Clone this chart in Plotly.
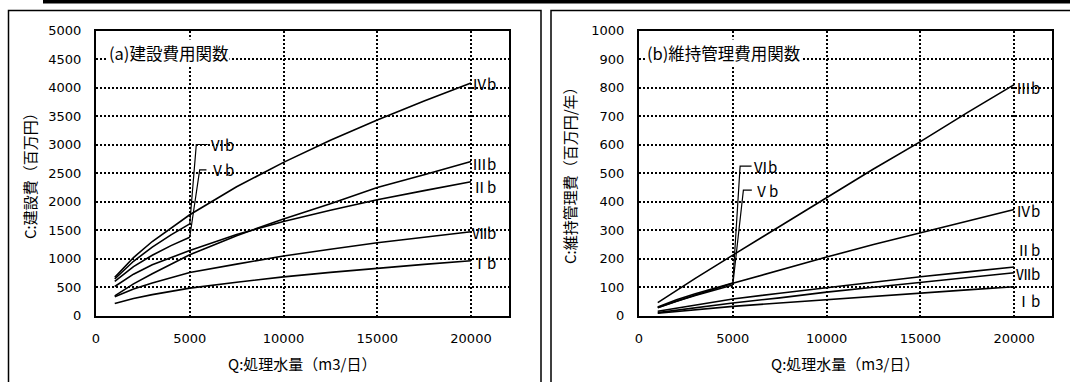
import plotly.graph_objects as go

W, H = 1070, 382

# ---------------- data ----------------
Q_full = [1000, 2000, 3000, 5000, 7500, 10000, 12500, 15000, 17500, 20000]
Q_short = [1000, 2000, 3000, 4000, 5000]

# (a) construction cost (million yen)
con_Ib = [210, 298, 366, 480, 583, 678, 756, 829, 897, 960]
con_IIb = [509, 725, 891, 1140, 1420, 1650, 1845, 2030, 2191, 2347]
con_IIIb = [345, 555, 733, 1066, 1400, 1695, 1960, 2245, 2470, 2700]
con_IVb = [669, 1017, 1298, 1767, 2258, 2686, 3073, 3431, 3765, 4080]
con_Vb = [600, 858, 1056, 1226, 1374]
con_VIb = [640, 951, 1200, 1415, 1608]
con_VIIb = [330, 466, 570, 755, 901, 1045, 1162, 1275, 1373, 1470]

# (b) O&M cost (million yen / year)
om_Ib = [8, 14, 20, 32, 44, 56, 68, 80, 90, 101]
om_IIb = [15, 26, 36, 58, 78, 98, 117, 136, 153, 170]
om_IIIb = [45, 88, 130, 212, 313, 412, 514, 610, 712, 810]
om_IVb = [28, 51, 72, 113, 160, 205, 249, 290, 331, 372]
om_Vb = [27, 50, 70, 89, 107]
om_VIb = [30, 55, 76, 95, 114]
om_VIIb = [10, 19, 27, 44, 62, 82, 99, 116, 133, 150]

names = ["Ⅰb", "Ⅱb", "Ⅲb", "Ⅳb", "Ⅴb", "Ⅵb", "Ⅶb"]

# end-label heights
con_label_y = {"Ⅳb": 4065, "Ⅲb": 2672, "Ⅱb": 2263, "Ⅶb": 1461, "Ⅰb": 935}
om_label_y = {"Ⅲb": 800, "Ⅳb": 368, "Ⅱb": 232, "Ⅶb": 147, "Ⅰb": 52}
# callout labels for Vb / VIb: (elbow x, elbow y, hook end x, label x)
con_callout = {"Ⅵb": (5350, 3000, 5950, 6030), "Ⅴb": (5530, 2556, 5890, 6040)}
om_callout = {"Ⅵb": (5390, 524, 6000, 6030), "Ⅴb": (5565, 440, 6015, 6080)}

tick_x = [0, 5000, 10000, 15000, 20000]
tick_x_text = ["0", "5000", "10000", "15000", "20000"]

CJK = "Noto Sans CJK JP"
NUM = "DejaVu Sans"

fig = go.Figure()

line_style = dict(color="black", width=1.6)

con_series = {"Ⅰb": con_Ib, "Ⅱb": con_IIb, "Ⅲb": con_IIIb, "Ⅳb": con_IVb, "Ⅶb": con_VIIb}
con_short = {"Ⅴb": con_Vb, "Ⅵb": con_VIb}
om_series = {"Ⅰb": om_Ib, "Ⅱb": om_IIb, "Ⅲb": om_IIIb, "Ⅳb": om_IVb, "Ⅶb": om_VIIb}
om_short = {"Ⅴb": om_Vb, "Ⅵb": om_VIb}

annotations = []

def add_panel(series, short, label_y, callout, xa, ya, label_x):
    for nm, vals in series.items():
        fig.add_trace(go.Scatter(x=Q_full, y=vals, mode="lines", line=line_style,
                                 xaxis=xa, yaxis=ya, showlegend=False, hoverinfo="skip"))
        annotations.append(dict(x=label_x, y=label_y[nm], xref=xa, yref=ya, text=nm,
                                showarrow=False, xanchor="left", yanchor="middle",
                                borderpad=0,
                                font=dict(family=CJK, size=15, color="black")))
    for nm, vals in short.items():
        fig.add_trace(go.Scatter(x=Q_short, y=vals, mode="lines", line=line_style,
                                 xaxis=xa, yaxis=ya, showlegend=False, hoverinfo="skip"))
        ex, ey, hx, lx = callout[nm]
        fig.add_trace(go.Scatter(x=[Q_short[-1], ex, hx], y=[vals[-1], ey, ey], mode="lines",
                                 line=dict(color="black", width=1.2),
                                 xaxis=xa, yaxis=ya, showlegend=False, hoverinfo="skip"))
        annotations.append(dict(x=lx, y=ey, xref=xa, yref=ya, text=nm,
                                showarrow=False, xanchor="left", yanchor="middle",
                                borderpad=0,
                                font=dict(family=CJK, size=15, color="black")))

add_panel(con_series, con_short, con_label_y, con_callout, "x", "y", 20000)
add_panel(om_series, om_short, om_label_y, om_callout, "x2", "y2", 20050)

# panel titles
annotations.append(dict(x=560, y=4610, xref="x", yref="y", text="(a)建設費用関数",
                        showarrow=False, xanchor="left", yanchor="middle", bgcolor="white",
                        borderpad=1, font=dict(family=CJK, size=16.5, color="black")))
annotations.append(dict(x=300, y=922, xref="x2", yref="y2", text="(b)維持管理費用関数",
                        showarrow=False, xanchor="left", yanchor="middle", bgcolor="white",
                        borderpad=1, font=dict(family=CJK, size=16.5, color="black")))

# axis titles
for xc, txt in [(302, "Q:処理水量（m3/日）"), (845, "Q:処理水量（m3/日）")]:
    annotations.append(dict(x=xc / W, y=1 - 363 / H, xref="paper", yref="paper", text=txt,
                            showarrow=False, xanchor="center", yanchor="middle",
                            font=dict(family=CJK, size=15, color="black")))
for xc, txt in [(30, "C:建設費（百万円）"), (570, "C:維持管理費（百万円/年）")]:
    annotations.append(dict(x=xc / W, y=1 - 172 / H, xref="paper", yref="paper", text=txt,
                            showarrow=False, xanchor="center", yanchor="middle", textangle=-90,
                            font=dict(family=CJK, size=15, color="black")))

y_dom = [1 - 315.5 / H, 1 - 30.5 / H]
axis_common = dict(showline=True, mirror=True, linecolor="black", linewidth=2,
                   showgrid=True, gridcolor="black", gridwidth=2, griddash="2px,2px",
                   zeroline=False, ticks="", automargin=False,
                   tickfont=dict(family=NUM, size=13, color="black"))

fig.update_layout(
    width=W, height=H, margin=dict(l=0, r=0, t=0, b=0, pad=0), autosize=False,
    paper_bgcolor="white", plot_bgcolor="white", showlegend=False,
    xaxis=dict(domain=[96 / W, 508.5 / W], range=[0, 22000], tickvals=tick_x,
               ticktext=tick_x_text, anchor="y", ticklabelstandoff=10, **axis_common),
    yaxis=dict(domain=y_dom, range=[0, 5000], dtick=500, anchor="x",
               ticklabelstandoff=10, **axis_common),
    xaxis2=dict(domain=[639 / W, 1051.7 / W], range=[0, 22000], tickvals=tick_x,
                ticktext=tick_x_text, anchor="y2", ticklabelstandoff=10, **axis_common),
    yaxis2=dict(domain=y_dom, range=[0, 1000], dtick=100, anchor="x2",
                ticklabelstandoff=10, **axis_common),
    annotations=annotations,
    shapes=[
        dict(type="rect", xref="paper", yref="paper", x0=43 / W, x1=1.0, y0=1 - 3.5 / H, y1=1.0,
             fillcolor="black", line=dict(width=0)),
        dict(type="rect", xref="paper", yref="paper", x0=8.5 / W, x1=541 / W, y0=-0.1,
             y1=1 - 10.5 / H, line=dict(color="black", width=1.5)),
        dict(type="rect", xref="paper", yref="paper", x0=551 / W, x1=1.05, y0=-0.1,
             y1=1 - 10.5 / H, line=dict(color="black", width=1.5)),
    ],
)

post = ("document.documentElement.style.margin='0';document.documentElement.style.padding='0';"
        "document.documentElement.style.overflow='hidden';"
        "document.body.style.margin='0';document.body.style.padding='0';document.body.style.overflow='hidden';"
        "var d=document.getElementById('{plot_id}');d.style.position='fixed';d.style.top='0';d.style.left='0';")

fig.write_html("out.html", config={"displayModeBar": False, "responsive": False}, post_script=post)
